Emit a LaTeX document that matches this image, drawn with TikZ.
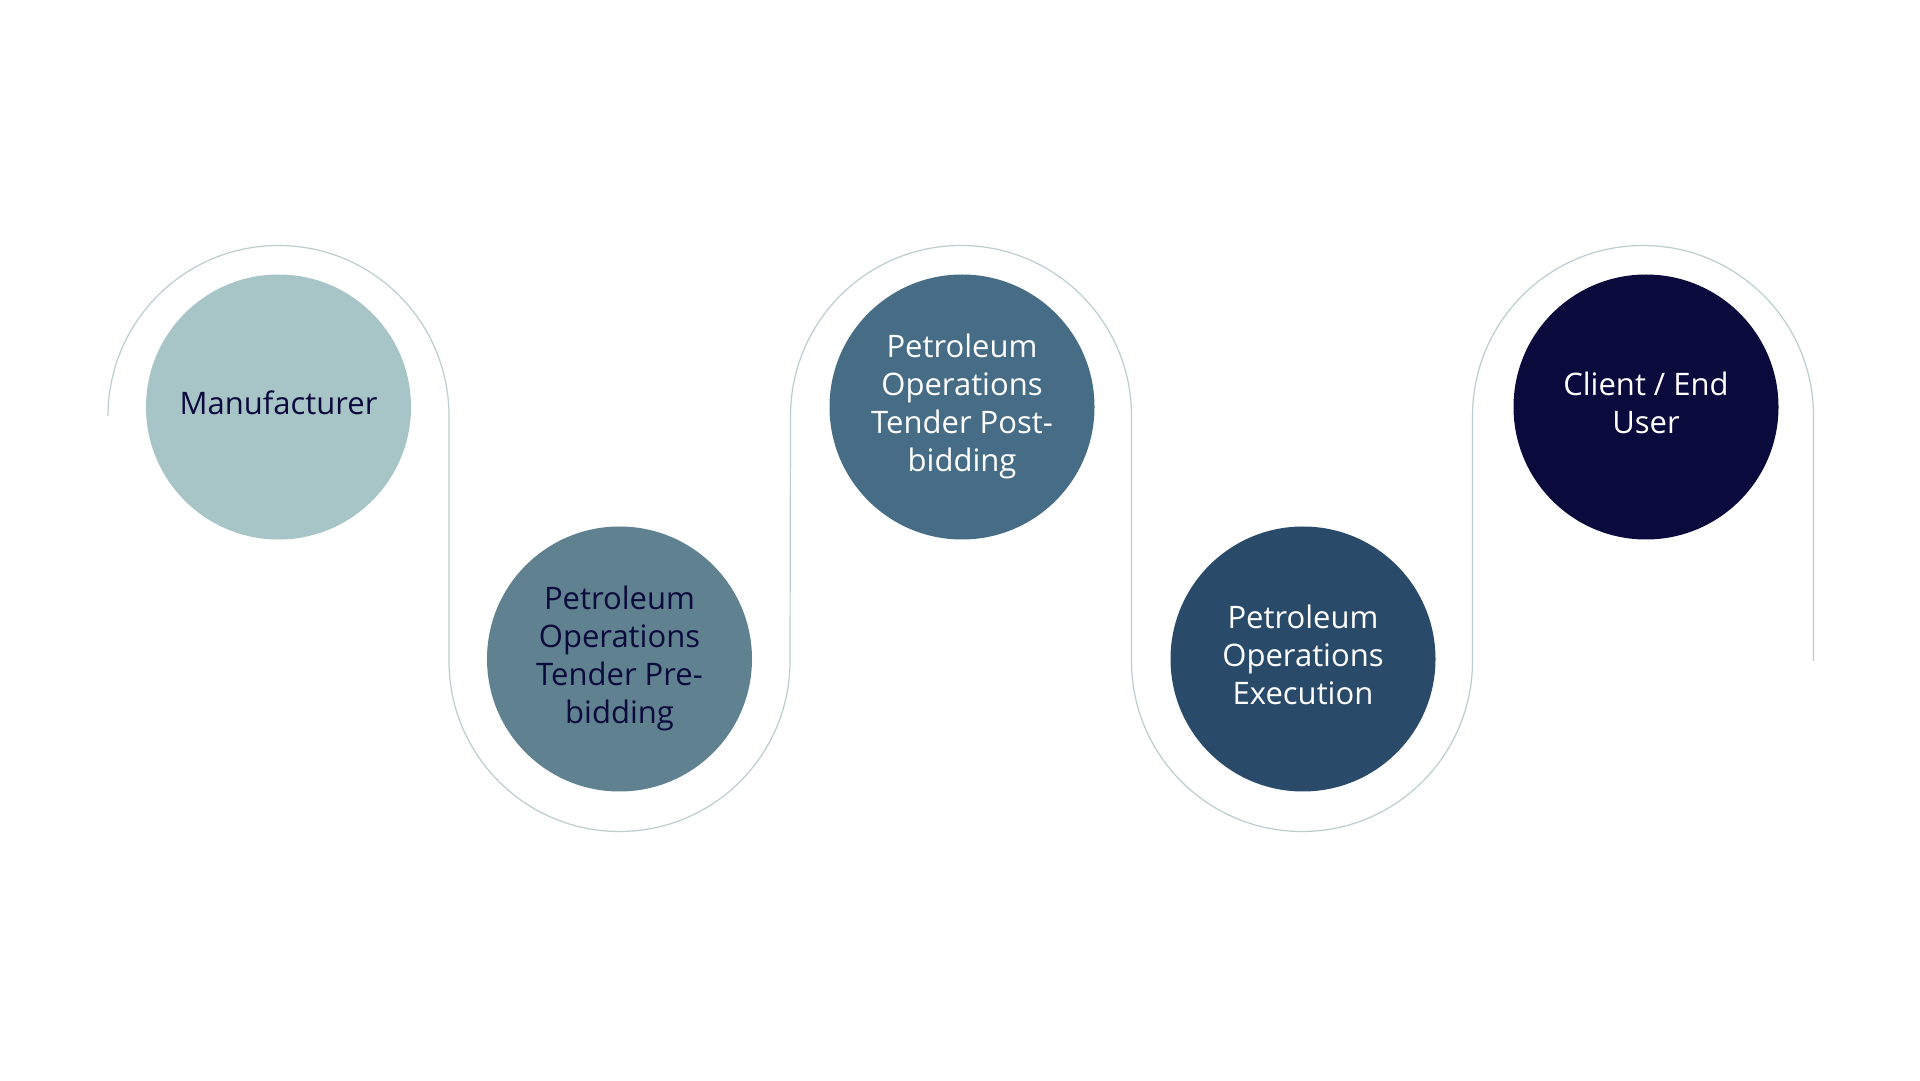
\documentclass[tikz,border=0pt]{standalone}
\usepackage{fontspec}
\setmainfont{Open Sans}
\definecolor{trackc}{HTML}{BCCDCF}
\definecolor{cA}{HTML}{A7C4C7}
\definecolor{cB}{HTML}{5F8190}
\definecolor{cC}{HTML}{466D85}
\definecolor{cD}{HTML}{2A4A69}
\definecolor{cE}{HTML}{0B0A3C}
\definecolor{navytext}{HTML}{0B0A3C}
\newcommand{\stagetxt}[2][3.5pt]{\raisebox{#1}{\begin{tabular}{@{}c@{}}#2\end{tabular}}}
\begin{document}
\begin{tikzpicture}[x=1pt,y=1pt,
  stage/.style={circle, minimum size=265pt, inner sep=0pt,
    font=\fontsize{31}{38}\selectfont},
  track/.style={draw=trackc, line width=1.2pt}]
\useasboundingbox[fill=white] (0,0) rectangle (1920,1080);
% track
\draw[track] (108,664) arc[start angle=180, end angle=0, radius=170.5]
  -- (449,419) arc[start angle=180, end angle=360, radius=170.5]
  -- (790.5,664) arc[start angle=180, end angle=0, radius=170.5]
  -- (1131.5,419) arc[start angle=180, end angle=360, radius=170.5]
  -- (1472.5,664) arc[start angle=180, end angle=0, radius=170.5]
  -- (1813.5,419);
% stages
\node[stage, fill=cA, text=navytext] (s1) at (278.5,673) {\stagetxt[2.5pt]{Manufacturer}};
\node[stage, fill=cB, text=navytext] (s2) at (619.5,421) {\stagetxt[5pt]{Petroleum\\Operations\\Tender Pre-\\bidding}};
\node[stage, fill=cC, text=white] (s3) at (962,673) {\stagetxt[5pt]{Petroleum\\Operations\\Tender Post-\\bidding}};
\node[stage, fill=cD, text=white] (s4) at (1303,421) {\stagetxt[4.5pt]{Petroleum\\Operations\\Execution}};
\node[stage, fill=cE, text=white] (s5) at (1646,673) {\stagetxt[3.5pt]{Client / End\\User}};
\end{tikzpicture}
\end{document}
